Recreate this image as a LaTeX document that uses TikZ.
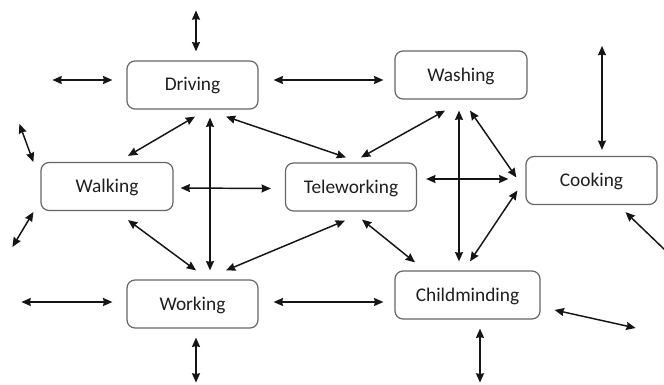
\documentclass[tikz,border=0pt]{standalone}
\usepackage{fontspec}
\setmainfont{Carlito}
\usetikzlibrary{arrows.meta,calc}

\definecolor{boxline}{HTML}{666666}
\definecolor{ink}{HTML}{151515}
\definecolor{labeltext}{HTML}{1E1E1E}

\tikzset{
  activity/.style={draw=boxline, line width=0.9pt, rounded corners=6pt,
    fill=white, inner sep=0pt, minimum height=36pt, text=labeltext,
    font=\fontsize{14.5}{17}\selectfont, text depth=1pt},
  tip/.tip={Stealth[length=7pt,width=6pt,inset=0.6pt]},
  link/.style={draw=ink, line width=1.1pt, tip-tip},
  halflink/.style={draw=ink, line width=1.1pt, tip-}
}

\begin{document}
\begin{tikzpicture}[x=0.75pt, y=-0.75pt]
  \useasboundingbox[fill=white] (0,0) rectangle (664,385);

  % activities
  \node[activity, minimum width=98.25pt] (Driving)      at (192.5,85)   {Driving};
  \node[activity, minimum width=99pt]    (Washing)      at (461,75)     {Washing};
  \node[activity, minimum width=99pt]    (Walking)      at (107,186.5)  {Walking};
  \node[activity, minimum width=98.25pt] (Teleworking)  at (351,187)    {Teleworking};
  \node[activity, minimum width=98.25pt] (Cooking)      at (591.5,180.5){Cooking};
  \node[activity, minimum width=98.25pt] (Working)      at (192.5,304)  {Working};
  \node[activity, minimum width=108.75pt](Childminding) at (467.5,295)  {Childminding};

  % links between activities
  \draw[link] ($(Driving.east)+(15,-5)$) -- ($(Washing.west)+(-11,5)$);
  \draw[link] ($(Driving.south)+(2.5,7)$) -- ($(Walking.north)+(21,-6)$);
  \draw[link] ($(Driving.south)+(17.5,8)$) -- ($(Working.north)+(17.5,-9)$);
  \draw[link] ($(Driving.south)+(33.5,7)$) -- ($(Teleworking.north)+(-5,-5)$);
  \draw[link] ($(Walking.east)+(7,1.5)$) -- ($(Teleworking.west)+(-14,1.5)$);
  \draw[link] ($(Walking.south)+(21,9)$) -- ($(Working.north)+(3.5,-9)$);
  \draw[link] ($(Washing.south)+(-16,11)$) -- ($(Teleworking.north)+(10,-5)$);
  \draw[link] ($(Washing.south)+(-2,11)$) -- ($(Childminding.north)+(-8.5,-9)$);
  \draw[link] ($(Washing.south)+(9,11)$) -- ($(Cooking.west)+(-9,-3)$);
  \draw[link] ($(Teleworking.east)+(9,-8)$) -- ($(Cooking.west)+(-17,-1.5)$);
  \draw[link] ($(Teleworking.south)+(11,8)$) -- ($(Childminding.north)+(-52.5,-8)$);
  \draw[link] ($(Teleworking.south)+(-6,9)$) -- ($(Working.north)+(33.5,-9)$);
  \draw[link] ($(Childminding.north)+(2.5,-9)$) -- ($(Cooking.west)+(-8,10)$);
  \draw[link] ($(Working.east)+(15,-2)$) -- ($(Childminding.west)+(-11,7)$);

  % links leading out of the frame
  \draw[link] ($(Driving.north)+(3.5,-9)$) -- ++(0,-41);
  \draw[link] ($(Driving.west)+(-14,-5)$) -- ++(-60,0);
  \draw[link] ($(Walking.west)+(-7,-24.5)$) -- ++(-14,-38);
  \draw[link] ($(Walking.west)+(-7,25.5)$) -- ++(-21,35);
  \draw[link] ($(Working.west)+(-14,-2)$) -- ++(-91,0);
  \draw[link] ($(Working.south)+(3.5,9)$) -- ++(0,45);
  \draw[link] ($(Childminding.south)+(12.5,9)$) -- ++(0,54);
  \draw[link] ($(Childminding.east)+(14,15)$) -- ++(81,18);
  \draw[link] ($(Cooking.north)+(10.5,-6)$) -- ++(0,-104);
  \draw[halflink] ($(Cooking.south)+(34,7)$) -- ++(50,48);
\end{tikzpicture}
\end{document}
